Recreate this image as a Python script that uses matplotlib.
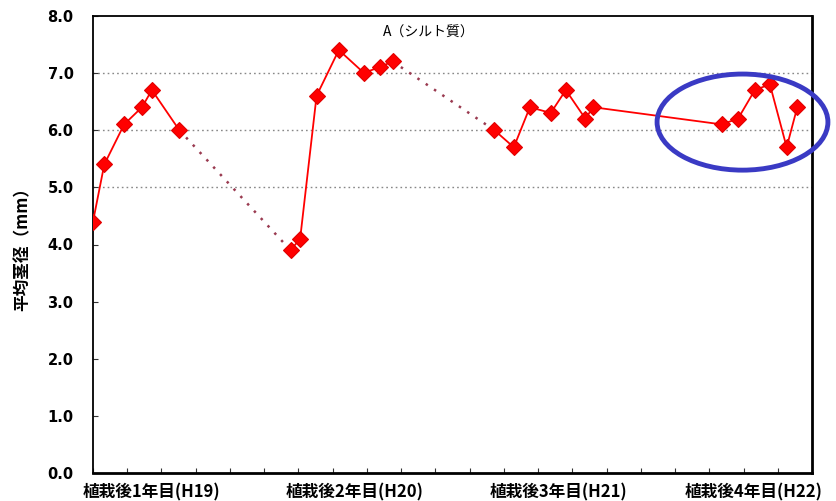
import matplotlib
matplotlib.use("Agg")
import matplotlib.pyplot as plt
from matplotlib.patches import Ellipse

plt.rcParams['font.family'] = ['Noto Sans CJK JP', 'DejaVu Sans']

# ---- data (x in axis tick-interval units) ----
year1_x = [0.0, 0.33, 0.91, 1.43, 1.72, 2.52]
year1_y = [4.4, 5.4, 6.1, 6.4, 6.7, 6.0]
year2_x = [5.77, 6.05, 6.53, 7.18, 7.91, 8.37, 8.75]
year2_y = [3.9, 4.1, 6.6, 7.4, 7.0, 7.1, 7.2]
year3_x = [11.72, 12.29, 12.76, 13.37, 13.81, 14.38, 14.61]
year3_y = [6.0, 5.7, 6.4, 6.3, 6.7, 6.2, 6.4]
year4_x = [18.36, 18.84, 19.33, 19.77, 20.26, 20.57]
year4_y = [6.1, 6.2, 6.7, 6.8, 5.7, 6.4]

year_labels = ['植栽後1年目(H19)', '植栽後2年目(H20)', '植栽後3年目(H21)', '植栽後4年目(H22)']
year_label_pos = [1.72, 7.65, 13.6, 19.3]
y_ticks = [0.0, 1.0, 2.0, 3.0, 4.0, 5.0, 6.0, 7.0, 8.0]
grid_levels = [5.0, 6.0, 7.0]
title = 'A（シルト質）'
ylabel = '平均茎径（mm）'
highlight_center = (18.97, 6.14)
highlight_size = (4.99, 1.68)

W, H = 837, 501
fig = plt.figure(figsize=(W / 100, H / 100), dpi=100)
ax = fig.add_axes([93 / W, 1 - 473.3 / H, (812 - 93) / W, (473.3 - 15.7) / H])

ax.set_xlim(0, 21)
ax.set_ylim(0, 8)

for g in grid_levels:
    ax.axhline(g, color='#888888', lw=1.0, ls=(0, (1.2, 2.2)), zorder=1)

red = '#ff0000'
dot_col = '#9a3a50'
# connecting dotted lines between years
ax.plot([year1_x[-1], year2_x[0]], [year1_y[-1], year2_y[0]], color=dot_col,
        lw=1.8, ls=(0, (1, 3.0)), zorder=2)
ax.plot([year2_x[-1], year3_x[0]], [year2_y[-1], year3_y[0]], color=dot_col,
        lw=1.8, ls=(0, (1, 3.0)), zorder=2)
# solid connection year3 -> year4
ax.plot([year3_x[-1], year4_x[0]], [year3_y[-1], year4_y[0]], color=red,
        lw=1.3, zorder=3)

for xs, ys in [(year1_x, year1_y), (year2_x, year2_y), (year3_x, year3_y), (year4_x, year4_y)]:
    ax.plot(xs, ys, color=red, lw=1.3, marker='D', ms=8.5,
            mfc=red, mec='#e00000', mew=0.8, zorder=4)

ell = Ellipse(highlight_center, highlight_size[0], highlight_size[1], fill=False,
              ec='#3a3ac4', lw=3.5, clip_on=False, zorder=5)
ax.add_patch(ell)

ax.set_yticks(y_ticks)
ax.set_yticklabels([f'{v:.1f}' for v in y_ticks], fontsize=10.5, fontweight='bold',
                   family=['DejaVu Sans'])
ax.set_xticks(range(0, 22))
ax.set_xticklabels([])
ax.tick_params(axis='both', direction='in', length=3.5, width=0.8, color='#333333')
ax.tick_params(axis='y', pad=14)

for lab, pos in zip(year_labels, year_label_pos):
    ax.text(pos, -0.041, lab, transform=ax.get_xaxis_transform(), ha='center', va='center',
            fontsize=12, fontweight='bold')

ax.text(0.467, 0.962, title, transform=ax.transAxes, ha='center', va='center', fontsize=10)

fig.text(23 / W, 1 - 245 / H, ylabel, rotation=90, ha='center', va='center',
         fontsize=12, fontweight='bold')

for s in ['left', 'top']:
    ax.spines[s].set_linewidth(1.3)
for s in ['right', 'bottom']:
    ax.spines[s].set_linewidth(2.0)

fig.savefig('out.png', dpi=100)
